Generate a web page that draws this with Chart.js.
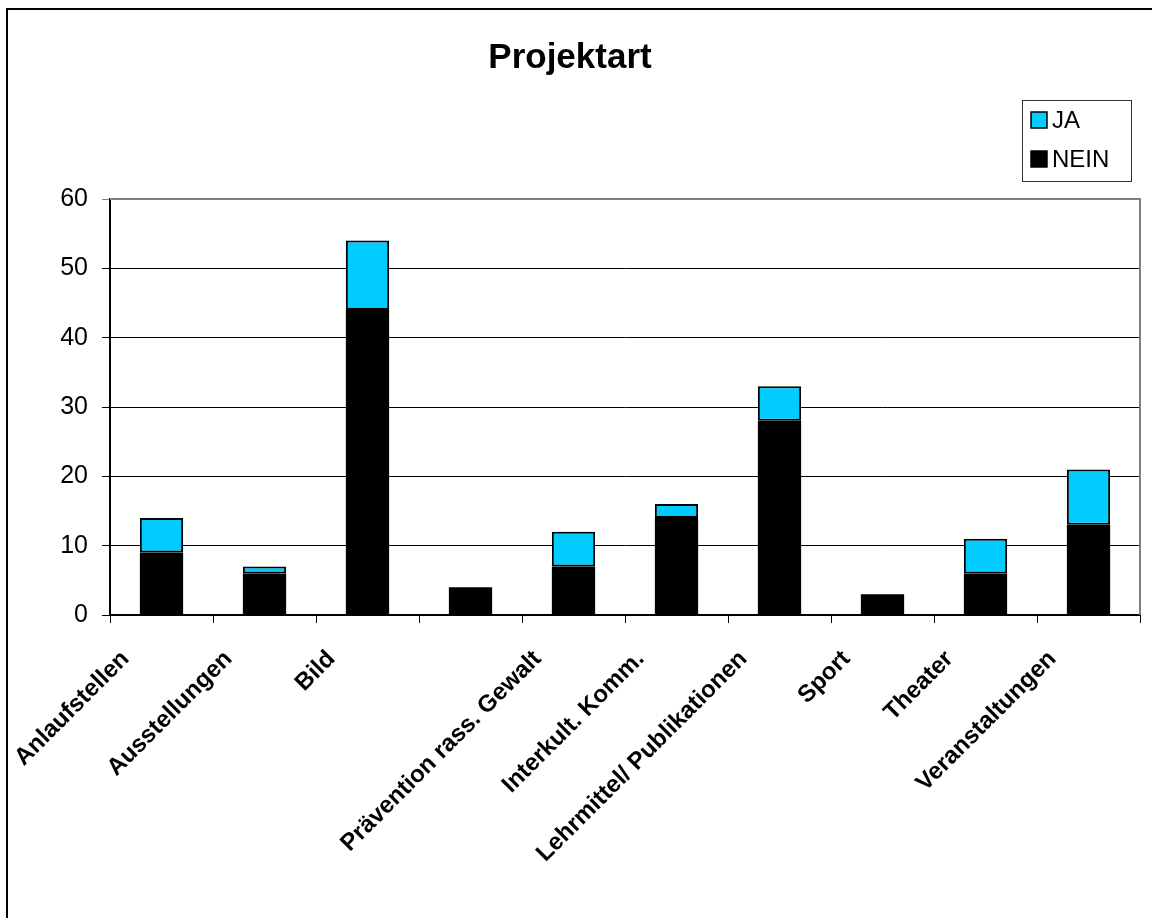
<!DOCTYPE html>
<html>
<head>
    <title>Projektart</title>
    <meta charset="utf-8" />
    <script src="https://cdn.jsdelivr.net/npm/chart.js"></script>
    <style>
        body {
            margin: 0;
            padding: 0;
            background: white;
            font-family: "Liberation Sans", Arial, sans-serif;
        }

        #wrap {
            position: relative;
            width: 1152px;
            height: 918px;
            overflow: hidden;
        }

        #frame {
            position: absolute;
            left: 6px;
            top: 8px;
            width: 1200px;
            height: 1000px;
            border-left: 2px solid black;
            border-top: 2px solid black;
            pointer-events: none;
        }
    </style>
</head>
<body>
    <div id="wrap">
        <canvas id="grafico" width="1152" height="918"></canvas>
        <div id="frame"></div>
    </div>

    <script>
        const kategorien = ["Anlaufstellen", "Ausstellungen", "Bild", "", "Prävention rass. Gewalt",
            "Interkult. Komm.", "Lehrmittel/ Publikationen", "Sport", "Theater", "Veranstaltungen"];
        const nein = [9, 6, 44, 4, 7, 14, 28, 3, 6, 13];
        const ja = [5, 1, 10, 0, 5, 2, 5, 0, 5, 8];
        const yTicks = [0, 10, 20, 30, 40, 50, 60];

        const FONT = '"Liberation Sans", Arial, sans-serif';

        // Rahmen oben/rechts um die Zeichenfläche + Legende mit Kasten
        const rahmenPlugin = {
            id: "rahmen",
            afterDraw(chart) {
                const c = chart.ctx;
                const a = chart.chartArea;
                c.save();
                c.strokeStyle = "#808080";
                c.lineWidth = 2;
                c.beginPath();
                c.moveTo(a.left, a.top);
                c.lineTo(a.right, a.top);
                c.lineTo(a.right, a.bottom);
                c.stroke();

                // Legende
                const lx = 1022, ly = 100, lw = 109, lh = 81;
                c.fillStyle = "white";
                c.fillRect(lx, ly, lw, lh);
                c.strokeStyle = "#333";
                c.lineWidth = 1;
                c.strokeRect(lx + 0.5, ly + 0.5, lw, lh);
                const items = [chart.data.datasets[1], chart.data.datasets[0]];
                c.font = "24px " + FONT;
                c.textBaseline = "middle";
                items.forEach((ds, i) => {
                    const cy = ly + 20 + i * 39;
                    c.fillStyle = ds.backgroundColor;
                    c.fillRect(lx + 9, cy - 8, 16, 16);
                    c.strokeStyle = "black";
                    c.lineWidth = 1.5;
                    c.strokeRect(lx + 9, cy - 8, 16, 16);
                    c.fillStyle = "black";
                    c.fillText(ds.label, lx + 30, cy + 1);
                });
                c.restore();
            }
        };

        const ctx = document.getElementById("grafico").getContext("2d");

        new Chart(ctx, {
            type: "bar",
            data: {
                labels: kategorien,
                datasets: [
                    {
                        label: "NEIN",
                        data: nein,
                        backgroundColor: "#000000",
                        borderColor: "#000000",
                        borderWidth: 0,
                        barPercentage: 0.42,
                        categoryPercentage: 1
                    },
                    {
                        label: "JA",
                        data: ja,
                        backgroundColor: "#00CCFF",
                        borderColor: "#000000",
                        borderWidth: 2,
                        borderSkipped: false,
                        barPercentage: 0.42,
                        categoryPercentage: 1
                    }
                ]
            },
            options: {
                responsive: false,
                animation: false,
                layout: {
                    padding: { left: 0, right: 12, top: 0, bottom: 0 }
                },
                plugins: {
                    legend: { display: false },
                    tooltip: { enabled: false },
                    title: {
                        display: true,
                        text: "Projektart",
                        color: "#000",
                        font: { family: FONT, size: 35, weight: "bold" },
                        padding: { top: 37, bottom: 120 }
                    }
                },
                scales: {
                    x: {
                        stacked: true,
                        afterFit: (scale) => { scale.height = 303; },
                        border: { color: "#000", width: 2 },
                        grid: {
                            offset: true,
                            drawOnChartArea: false,
                            drawTicks: true,
                            tickLength: 8,
                            color: "#000"
                        },
                        ticks: {
                            autoSkip: false,
                            maxRotation: 45,
                            minRotation: 45,
                            padding: 22,
                            labelOffset: -36,
                            color: "#000",
                            font: { family: FONT, size: 24, weight: "bold" }
                        }
                    },
                    y: {
                        stacked: true,
                        min: 0,
                        max: 60,
                        afterFit: (scale) => { scale.width = 110; },
                        afterBuildTicks: (scale) => {
                            scale.ticks = yTicks.map(v => ({ value: v }));
                        },
                        border: { color: "#000", width: 2 },
                        grid: {
                            color: (c) => c.tick && c.tick.value === 60 ? "#808080" : "#000",
                            lineWidth: 1,
                            tickLength: 8
                        },
                        ticks: {
                            padding: 14,
                            color: "#000",
                            font: { family: FONT, size: 25 }
                        }
                    }
                }
            },
            plugins: [rahmenPlugin]
        });
    </script>
</body>
</html>
